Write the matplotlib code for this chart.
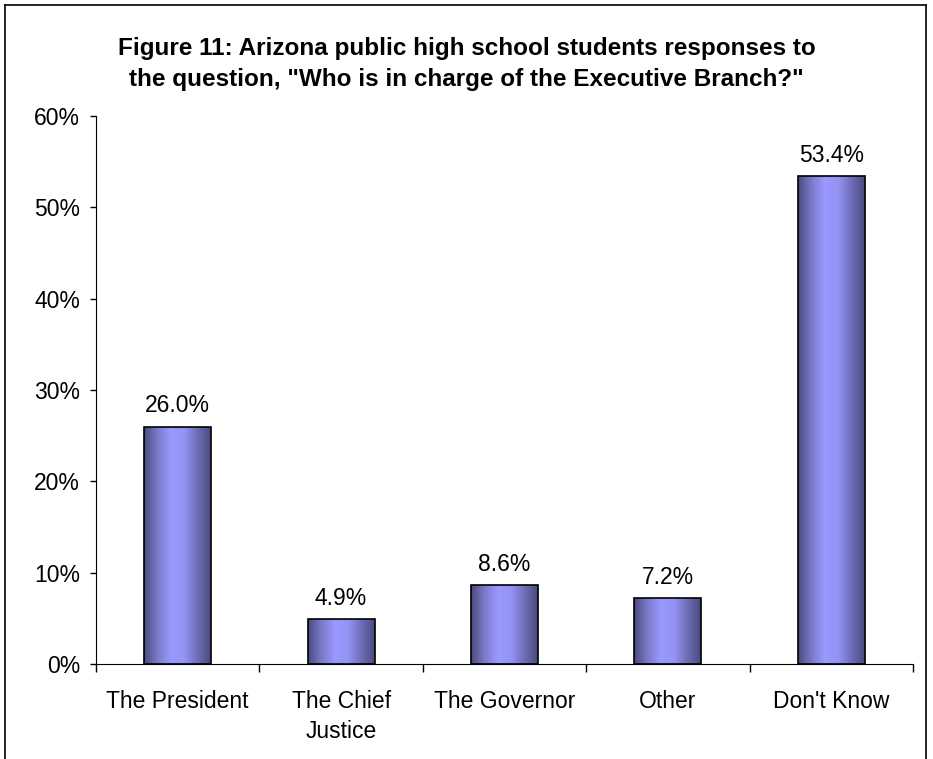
import numpy as np
import matplotlib
matplotlib.use('Agg')
import matplotlib.pyplot as plt
from matplotlib.colors import LinearSegmentedColormap
from matplotlib.lines import Line2D

plt.rcParams['font.family'] = ['Liberation Sans', 'DejaVu Sans']

categories = ['The President', 'The Chief\nJustice', 'The Governor', 'Other', "Don't Know"]
values = [26.0, 4.9, 8.6, 7.2, 53.4]
yticks = [0, 10, 20, 30, 40, 50, 60]
title = ('Figure 11: Arizona public high school students responses to\n'
         'the question, "Who is in charge of the Executive Branch?"')

fig = plt.figure(figsize=(9.33, 7.59), dpi=100)
ax = fig.add_axes([96/933, 1 - 664/759, (913 - 96)/933, (664 - 116)/759])

# cylinder-like shading across the bar width
cmap = LinearSegmentedColormap.from_list('bar', ['#4a4a80', '#7a7ac8', '#9999ff', '#9494f4', '#6e6eb8', '#4a4a80'])
grad = np.linspace(0, 1, 256).reshape(1, -1)

width = 0.41
x = np.arange(len(categories))
bars = ax.bar(x, values, width=width, color='none', edgecolor='black', linewidth=1.2, zorder=3)
for b in bars:
    bx, by = b.get_x(), b.get_y()
    im = ax.imshow(grad, cmap=cmap, aspect='auto', zorder=2,
                   extent=[bx, bx + b.get_width(), by, by + b.get_height()])
    im.set_clip_path(b)

for xi, v in zip(x, values):
    ax.text(xi, v + 1.0, f'{v:.1f}%', ha='center', va='bottom', fontsize=16.5)

ax.set_xlim(-0.5, len(categories) - 0.5)
ax.set_ylim(0, 60)
ax.set_yticks(yticks)
ax.set_yticklabels([f'{t}%' for t in yticks], fontsize=16.5)
ax.set_xticks(x)
ax.set_xticklabels(categories, fontsize=16.5, linespacing=1.35)
ax.set_xticks(np.arange(-0.5, len(categories)), minor=True)
ax.tick_params(axis='x', which='major', length=0, pad=19)
ax.tick_params(axis='x', which='minor', length=6, direction='out', width=1)
ax.tick_params(axis='y', length=4.5, direction='out', width=1, pad=7)
ax.spines['top'].set_visible(False)
ax.spines['right'].set_visible(False)
ax.set_aspect('auto')

fig.text(0.5, 1 - 64/759, title, ha='center', va='center', fontsize=17.5,
         fontweight='bold', linespacing=1.45)

# chart area border
fig.add_artist(Line2D([5/933, 5/933], [0, 1 - 5/759], color='black', lw=1.2))
fig.add_artist(Line2D([5/933, 926/933], [1 - 5/759, 1 - 5/759], color='black', lw=1.2))
fig.add_artist(Line2D([926/933, 926/933], [0, 1 - 5/759], color='black', lw=1.2))

fig.savefig('out.png', dpi=100)
